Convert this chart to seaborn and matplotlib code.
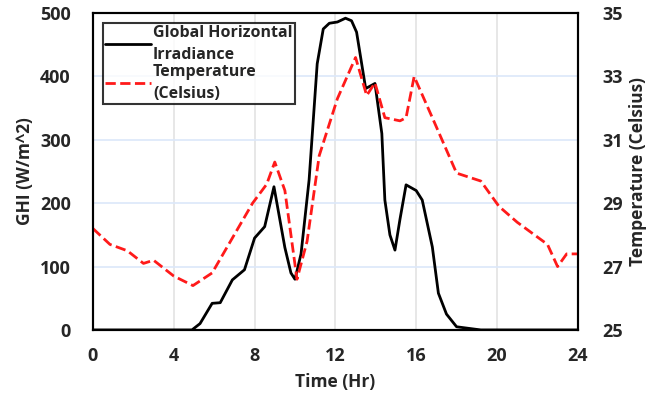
import matplotlib
matplotlib.use("Agg")
import matplotlib.pyplot as plt
import numpy as np
import pandas as pd
import seaborn as sns

# GHI readings (W/m^2) vs hour of day
ghi_hours = [0, 2, 4, 4.9, 5.3, 5.9, 6.3, 6.9, 7.5, 8.0, 8.5, 8.96, 9.5, 9.8,
             10.0, 10.3, 10.7, 11.1, 11.4, 11.7, 12.1, 12.5, 12.8, 13.05,
             13.5, 13.96, 14.3, 14.45, 14.7, 14.95, 15.2, 15.5, 16.0, 16.3,
             16.8, 17.1, 17.5, 18.0, 19.2, 24]
ghi_values = [0, 0, 0, 0, 10, 42, 43, 79, 95, 145, 163, 226, 130, 90,
              80, 120, 237, 420, 475, 484, 486, 492, 488, 470,
              381, 389, 310, 205, 150, 126, 175, 229, 220, 205,
              131, 58, 25, 5, 0, 0]

# Temperature readings (Celsius) vs hour of day
temp_hours = [0, 0.84, 1.7, 2.5, 3.0, 4.0, 4.95, 5.9, 6.9, 7.9, 8.6, 9.0,
              9.5, 10.1, 10.6, 11.2, 12.1, 13.0, 13.55, 13.96, 14.45, 15.2,
              15.5, 15.9, 16.8, 18.0, 19.2, 20.1, 21.0, 22.5, 23.0, 23.45, 24]
temp_values = [28.2, 27.7, 27.5, 27.1, 27.2, 26.7, 26.4, 26.8, 27.9, 29.0,
               29.6, 30.3, 29.4, 26.6, 27.8, 30.5, 32.3, 33.6, 32.4, 32.8,
               31.7, 31.6, 31.7, 33.0, 31.7, 29.95, 29.7, 28.9, 28.4, 27.7,
               27.0, 27.4, 27.4]

ghi_df = pd.DataFrame({"hour": ghi_hours, "ghi": ghi_values})
temp_df = pd.DataFrame({"hour": temp_hours, "temp": temp_values})

sns.set_style("white")
plt.rcParams["font.family"] = ["Open Sans", "DejaVu Sans"]
plt.rcParams["font.weight"] = "bold"

fig = plt.figure(figsize=(6.47, 3.98), dpi=100)
ax = fig.add_axes([0.1437, 0.171, 0.7493, 0.796])
ax2 = ax.twinx()

# grid lines like the original spreadsheet chart
for x in [4, 8, 12, 16, 20]:
    ax.axvline(x, color="#e3e3e3", lw=1.2, zorder=0)
for y in [100, 200, 300, 400]:
    ax.axhline(y, color="#dce8fa", lw=1.2, zorder=0)

sns.lineplot(data=ghi_df, x="hour", y="ghi", ax=ax, color="black", lw=2,
             label="Global Horizontal\nIrradiance", legend=False)
sns.lineplot(data=temp_df, x="hour", y="temp", ax=ax2, color="#ff1a1a", lw=2,
             linestyle="--", dashes=(3, 1.6), label="Temperature\n(Celsius)",
             legend=False)

ax.set_xlim(0, 24)
ax.set_ylim(0, 500)
ax2.set_ylim(25, 35)
ax.set_xticks(range(0, 25, 4))
ax.set_yticks(range(0, 501, 100))
ax2.set_yticks(range(25, 36, 2))

ax.tick_params(axis="x", labelsize=13, length=0, pad=12)
ax.tick_params(axis="y", labelsize=13, length=0, pad=16)
ax2.tick_params(axis="y", labelsize=13, length=0, pad=18)

ax.set_xlabel("Time (Hr)", fontsize=12.5, fontweight="bold", labelpad=6)
ax.set_ylabel("GHI (W/m^2)", fontsize=12.5, fontweight="bold", labelpad=4)
ax2.set_ylabel("Temperature (Celsius)", fontsize=12.5, fontweight="bold",
               labelpad=4)

for a in (ax, ax2):
    for s in a.spines.values():
        s.set_color("black")
        s.set_linewidth(1.5)

h1, l1 = ax.get_legend_handles_labels()
h2, l2 = ax2.get_legend_handles_labels()
leg = ax2.legend(h1 + h2, l1 + l2, loc="upper left",
                 bbox_to_anchor=(0.02, 0.97), fontsize=11.5, frameon=True,
                 fancybox=False, edgecolor="black", borderpad=0.15,
                 labelspacing=0.05, handlelength=2.9, handletextpad=0.1,
                 borderaxespad=0)
leg.get_frame().set_linewidth(1.5)
for t in leg.get_texts():
    t.set_fontweight("bold")
    t.set_linespacing(1.5)

fig.savefig("out.png", dpi=100)
